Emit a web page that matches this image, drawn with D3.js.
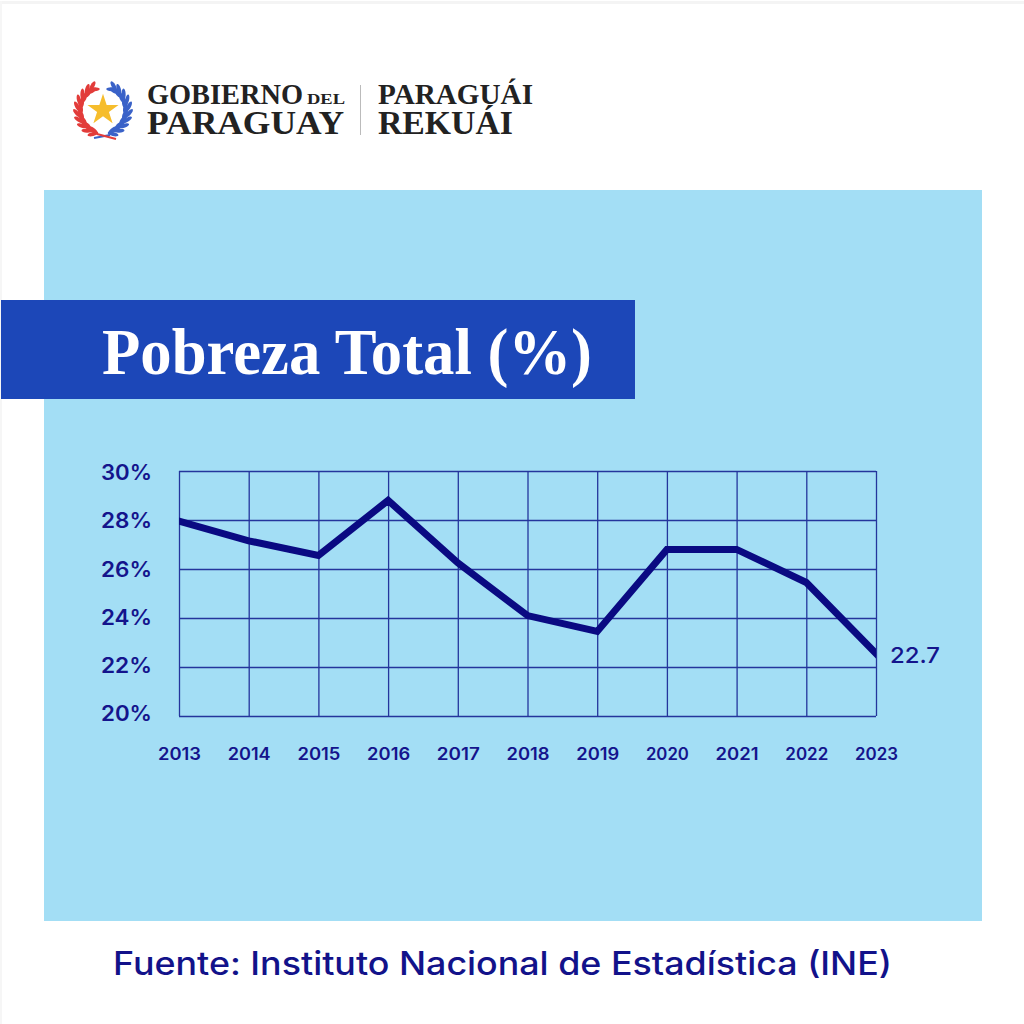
<!DOCTYPE html>
<html>
<head>
<meta charset="utf-8">
<script src="https://cdn.jsdelivr.net/npm/d3@7"></script>
<style>
  html, body { margin: 0; padding: 0; background: #fff; }
  svg { display: block; }
  .axis text { font-family: Inter, "Open Sans", sans-serif; font-weight: 600; fill: #14148c; }
  .axis .domain { display: none; }
  .serif { font-family: "Liberation Serif", serif; font-weight: bold; }
</style>
</head>
<body>
<svg id="canvas" width="1024" height="1024"></svg>
<script>
const years = [2013, 2014, 2015, 2016, 2017, 2018, 2019, 2020, 2021, 2022, 2023];
const poverty = [27.95, 27.15, 26.55, 28.8, 26.25, 24.1, 23.45, 26.8, 26.8, 25.45, 22.55];
const yTicks = [20, 22, 24, 26, 28, 30];
const lastLabel = "22.7";
const titleText = "Pobreza Total (%)";
const sourceText = "Fuente: Instituto Nacional de Estadística (INE)";

const navy = "#0a0a82";
const gridColor = "#24359c";

const svg = d3.select("#canvas");

// page background, panel and title band
svg.append("rect").attr("width", 1024).attr("height", 1024).attr("fill", "#fff");
svg.append("rect").attr("x", 0).attr("y", 1).attr("width", 1024).attr("height", 3).attr("fill", "#f4f4f4");
svg.append("rect").attr("x", 0).attr("y", 1).attr("width", 2).attr("height", 1023).attr("fill", "#f6f6f6");
svg.append("rect").attr("x", 44).attr("y", 190).attr("width", 938).attr("height", 731).attr("fill", "#a3def5");
svg.append("rect").attr("x", 1).attr("y", 300).attr("width", 634).attr("height", 99).attr("fill", "#1c47b8");

svg.append("text").attr("class", "serif")
    .attr("x", 102).attr("y", 374)
    .attr("font-size", 66)
    .attr("fill", "#fff")
    .attr("textLength", 490).attr("lengthAdjust", "spacingAndGlyphs")
    .text(titleText);

// scales
const x = d3.scalePoint().domain(years).range([179, 876]);
const y = d3.scaleLinear().domain([20, 30]).range([716, 471]);
const yLabel = d3.scaleLinear().domain([20, 30]).range([714, 473]);

// grid
svg.append("g")
    .attr("class", "axis")
    .attr("transform", "translate(179,0)")
    .call(d3.axisLeft(y).tickValues(yTicks).tickSize(-697).tickFormat(""))
    .call(g => g.selectAll("line").attr("stroke", gridColor).attr("stroke-width", 1.3));

svg.append("g")
    .attr("class", "axis")
    .attr("transform", "translate(0,716)")
    .call(d3.axisBottom(x).tickSize(-245).tickFormat(""))
    .call(g => g.selectAll("line").attr("stroke", gridColor).attr("stroke-width", 1.3));

// axis labels
svg.append("g")
    .attr("class", "axis")
    .attr("transform", "translate(101,0)")
    .call(d3.axisRight(yLabel).tickValues(yTicks).tickSize(0).tickPadding(0).tickFormat(d => d + "%"))
    .call(g => g.selectAll("text").attr("font-size", 21).attr("textLength", 51).attr("lengthAdjust", "spacingAndGlyphs"));

svg.append("g")
    .attr("class", "axis")
    .attr("transform", "translate(0,747)")
    .call(d3.axisBottom(x).tickSize(0).tickPadding(0))
    .call(g => g.selectAll("text").attr("font-size", 17).attr("dy", 0).attr("y", 13)
        .attr("textLength", 43).attr("lengthAdjust", "spacingAndGlyphs"));

// line, cut square at the plot edges
svg.append("clipPath").attr("id", "plot-clip")
    .append("rect")
    .attr("x", x(2013)).attr("y", y(30))
    .attr("width", x(2023) - x(2013)).attr("height", y(20) - y(30));

const line = d3.line()
    .x((d, i) => x(years[i]))
    .y(d => y(d));

svg.append("path")
    .datum(poverty)
    .attr("d", line)
    .attr("fill", "none")
    .attr("stroke", navy)
    .attr("stroke-width", 7)
    .attr("stroke-linecap", "square")
    .attr("stroke-linejoin", "miter")
    .attr("clip-path", "url(#plot-clip)");

svg.append("text")
    .attr("x", x(2023) + 14).attr("y", 663)
    .attr("font-family", "Inter, sans-serif").attr("font-weight", 500)
    .attr("font-size", 22)
    .attr("fill", "#14148c")
    .attr("textLength", 50).attr("lengthAdjust", "spacingAndGlyphs")
    .text(lastLabel);

// source
svg.append("text")
    .attr("x", 113).attr("y", 975)
    .attr("font-family", "Inter, sans-serif").attr("font-weight", 500)
    .attr("font-size", 32)
    .attr("fill", "#12128a")
    .attr("textLength", 779).attr("lengthAdjust", "spacingAndGlyphs")
    .text(sourceText);

// logo text
const logoWords = [
    { t: "GOBIERNO", x: 147, y: 104, s: 29, w: 156 },
    { t: "DEL", x: 307, y: 104, s: 15, w: 38 },
    { t: "PARAGUAY", x: 147, y: 134, s: 33, w: 197 },
    { t: "PARAGUÁI", x: 378, y: 104, s: 29, w: 155 },
    { t: "REKUÁI", x: 378, y: 134, s: 33, w: 135 }
];
svg.append("g").selectAll("text")
    .data(logoWords)
    .join("text")
    .attr("class", "serif")
    .attr("x", d => d.x).attr("y", d => d.y)
    .attr("font-size", d => d.s)
    .attr("fill", "#222")
    .attr("textLength", d => d.w).attr("lengthAdjust", "spacingAndGlyphs")
    .text(d => d.t);

svg.append("line")
    .attr("x1", 360.5).attr("x2", 360.5).attr("y1", 85).attr("y2", 135)
    .attr("stroke", "#bbb").attr("stroke-width", 1);

// emblem: star and the two laurel branches
const emblem = svg.append("g").attr("transform", "translate(103,110)");

emblem.append("path")
    .attr("d", d3.symbol(d3.symbolStar, 300)())
    .attr("transform", "translate(0,0)")
    .attr("fill", "#f6bd2c");

const arc = d3.arc();
function branch(angles, color, side) {
    const a0 = angles[0], a1 = angles[angles.length - 1];
    emblem.append("path")
        .attr("d", arc({ innerRadius: 23.5, outerRadius: 25, startAngle: Math.min(a0, a1), endAngle: Math.max(a0, a1) }))
        .attr("fill", color);
    angles.forEach(a => {
        const px = 24 * Math.sin(a), py = -24 * Math.cos(a);
        const deg = a * 180 / Math.PI;
        [-28, 28].forEach(off => {
            emblem.append("ellipse")
                .attr("rx", 2).attr("ry", 5.5)
                .attr("transform", "translate(" + [px, py] + ") rotate(" + (deg + side * 90 + off) + ") translate(0,-4)")
                .attr("fill", color);
        });
    });
}
const rad = d => d * Math.PI / 180;
branch([195, 210, 225, 240, 255, 270, 285, 300, 315, 328].map(rad), "#e23c3a", 1);
branch([165, 150, 135, 120, 105, 90, 75, 60, 45, 32].map(rad), "#3a62c8", -1);

emblem.append("line").attr("x1", -9).attr("y1", 28).attr("x2", 7).attr("y2", 25).attr("stroke", "#3a62c8").attr("stroke-width", 2);
emblem.append("line").attr("x1", -6).attr("y1", 24).attr("x2", 13).attr("y2", 29).attr("stroke", "#e23c3a").attr("stroke-width", 2);
</script>
</body>
</html>
